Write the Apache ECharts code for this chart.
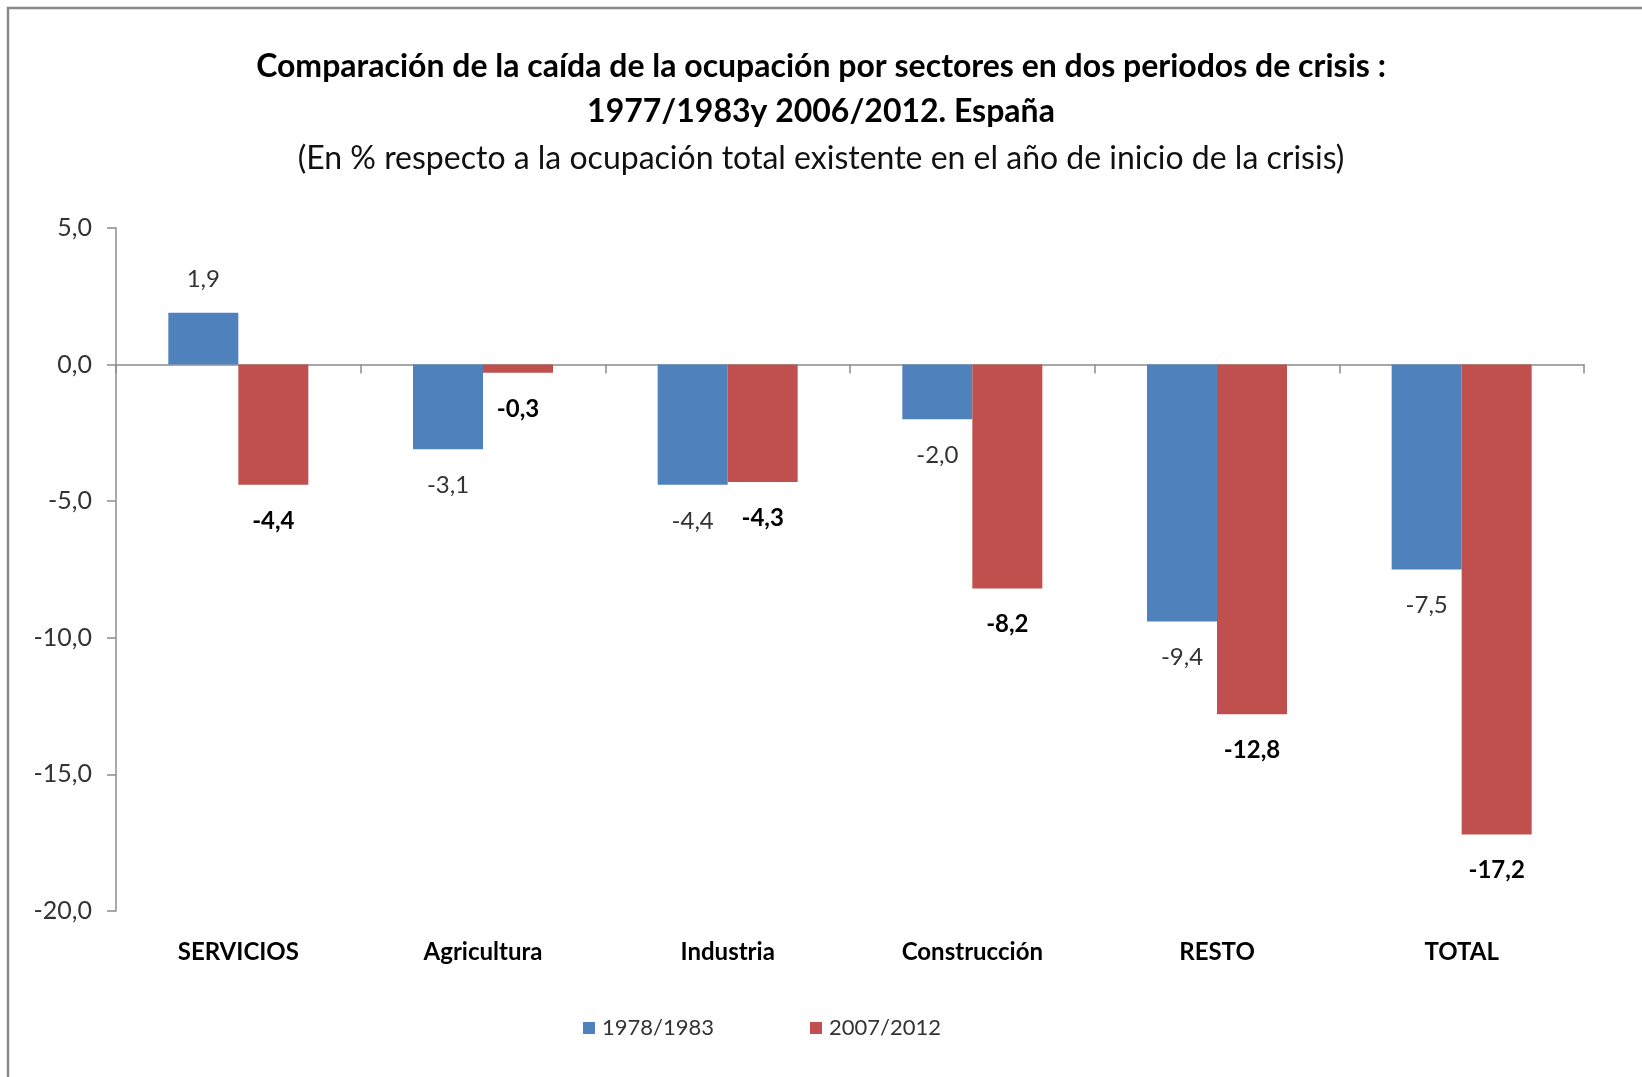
<!DOCTYPE html>
<html>
<head>
<meta charset="utf-8">
<script src="https://cdn.jsdelivr.net/npm/echarts/dist/echarts.min.js"></script>
<style>
html,body{margin:0;padding:0;background:#fff;}
#chart_main{width:1642px;height:1077px;}
</style>
</head>
<body>
<div id="chart_main"></div>
<script>
// datos del grafico
var sectores = ['SERVICIOS', 'Agricultura', 'Industria', 'Construcción', 'RESTO', 'TOTAL'];
var periodos = ['1978/1983', '2007/2012'];
var valores1978 = [1.9, -3.1, -4.4, -2.0, -9.4, -7.5];
var valores2007 = [-4.4, -0.3, -4.3, -8.2, -12.8, -17.2];
var ejeMin = -20, ejeMax = 5, ejeIntervalo = 5;

var fuente = 'Lato, "Noto Sans", sans-serif';

function fmt(v) {
	return Number(v).toFixed(1).replace('.', ',');
}
// etiqueta arriba si es positivo, abajo si es negativo
function barData(vals) {
	return vals.map(function(v) {
		return {
			value: v,
			label: {position: v >= 0 ? 'top' : 'bottom', distance: v >= 0 ? 21 : 24}
		};
	});
}

var myChart = echarts.init(document.getElementById('chart_main'));
var option = {
	backgroundColor: '#fff',
	animation: false,
	title: {
		text: 'Comparación de la caída de la ocupación por sectores en dos periodos de crisis :\n1977/1983y 2006/2012. España',
		subtext: '(En % respecto a la ocupación total existente en el año de inicio de la crisis)',
		left: 'center',
		top: 39,
		itemGap: 5,
		textStyle: {
			fontFamily: fuente,
			fontSize: 32,
			fontWeight: 'bold',
			color: '#000',
			lineHeight: 45
		},
		subtextStyle: {
			fontFamily: fuente,
			fontSize: 32,
			color: '#111',
			lineHeight: 40
		}
	},
	graphic: [{
		type: 'rect',
		shape: {x: 8, y: 8, width: 2000, height: 2000},
		style: {fill: 'none', stroke: '#8a8a8a', lineWidth: 2.5},
		silent: true
	}],
	legend: {
		data: periodos,
		left: 578,
		top: 1012,
		icon: 'rect',
		itemWidth: 12,
		itemHeight: 12,
		itemGap: 96,
		textStyle: {fontFamily: fuente, fontSize: 22, color: '#333', padding: [0, 0, 0, 2]}
	},
	grid: {left: 116, right: 58, top: 228, bottom: 166},
	xAxis: [{
		type: 'category',
		data: sectores,
		position: 'bottom',
		axisLine: {onZero: true, lineStyle: {color: '#8c8c8c', width: 1.5}},
		axisTick: {show: true, length: 9, lineStyle: {color: '#8c8c8c', width: 1.5}},
		axisLabel: {show: false}
	}, {
		type: 'category',
		data: sectores,
		position: 'bottom',
		axisLine: {show: false, onZero: false},
		axisTick: {show: false},
		axisLabel: {
			margin: 29,
			fontFamily: fuente,
			fontSize: 24,
			fontWeight: 'bold',
			color: '#000'
		}
	}],
	yAxis: {
		type: 'value',
		min: ejeMin,
		max: ejeMax,
		interval: ejeIntervalo,
		splitLine: {show: false},
		axisLine: {show: true, lineStyle: {color: '#8c8c8c', width: 1.5}},
		axisTick: {show: true, length: 9, lineStyle: {color: '#8c8c8c', width: 1.5}},
		axisLabel: {
			margin: 24,
			fontFamily: fuente,
			fontSize: 25,
			color: '#333',
			formatter: fmt
		}
	},
	series: [{
		name: periodos[0],
		type: 'bar',
		xAxisIndex: 0,
		barWidth: 70,
		barGap: '0%',
		itemStyle: {color: '#4f81bd'},
		label: {
			show: true,
			fontFamily: fuente,
			fontSize: 24,
			color: '#333',
			formatter: function(p) { return fmt(p.value); }
		},
		data: barData(valores1978)
	}, {
		name: periodos[1],
		type: 'bar',
		xAxisIndex: 0,
		barWidth: 70,
		barGap: '0%',
		itemStyle: {color: '#c0504d'},
		label: {
			show: true,
			fontFamily: fuente,
			fontSize: 24,
			fontWeight: 'bold',
			color: '#000',
			formatter: function(p) { return fmt(p.value); }
		},
		data: barData(valores2007)
	}]
};
myChart.setOption(option);
</script>
</body>
</html>
